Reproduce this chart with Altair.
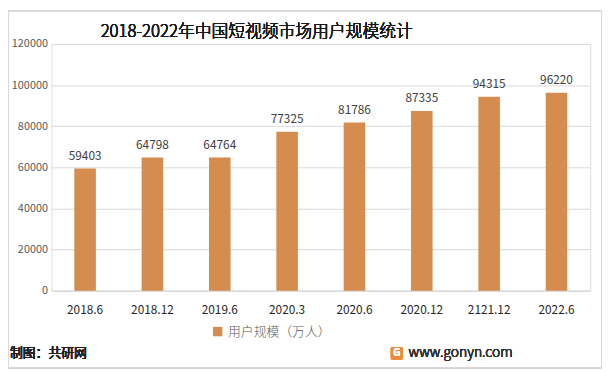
import altair as alt
import pandas as pd

periods = ["2018.6", "2018.12", "2019.6", "2020.3", "2020.6", "2020.12", "2121.12", "2022.6"]
users = [59403, 64798, 64764, 77325, 81786, 87335, 94315, 96220]
series_name = "用户规模（万人）"
title_text = "2018-2022年中国短视频市场用户规模统计"
y_ticks = [0, 20000, 40000, 60000, 80000, 100000, 120000]

df = pd.DataFrame({"period": periods, "users": users, "series": [series_name] * len(periods)})

FONT = "'Noto Sans CJK SC', 'Noto Sans', sans-serif"
BAR = "#D48C4F"

base = alt.Chart(df)

x = alt.X("period:N", sort=periods, title=None,
          scale=alt.Scale(paddingInner=0.68, paddingOuter=0.34),
          axis=alt.Axis(labelAngle=0, labelFontSize=12, labelColor="#262626", labelFont=FONT,
                        labelPadding=14, ticks=False, domain=True, domainColor="#d9d9d9"))
y = alt.Y("users:Q", title=None,
          scale=alt.Scale(domain=[0, 120000], nice=False),
          axis=alt.Axis(values=y_ticks, format="d", labelFontSize=11, labelColor="#595959",
                        labelFont=FONT, ticks=False, domain=False, gridColor="#d9d9d9",
                        labelPadding=4))

bars = base.mark_bar(color=BAR).encode(
    x=x, y=y,
    color=alt.Color("series:N", scale=alt.Scale(range=[BAR]),
                    legend=alt.Legend(title=None, orient="none", legendX=162, legendY=285,
                                      symbolType="square", symbolSize=90, labelFontSize=13,
                                      labelColor="#595959", labelFont=FONT, labelFontWeight=300)),
)

labels = base.mark_text(baseline="bottom", dy=-6, fontSize=12, color="#404040", font=FONT).encode(
    x=alt.X("period:N", sort=periods), y="users:Q", text="users:Q"
)

title = base.mark_text(fontSize=17, fontWeight=300, color="#1a1a1a", font=FONT,
                       baseline="middle").encode(
    x=alt.value(208), y=alt.value(-12), text=alt.value(title_text)
)

footer_left = base.mark_text(fontSize=13, fontWeight="normal", color="#222222", font=FONT,
                             align="left", baseline="middle").encode(
    x=alt.value(-42), y=alt.value(313), text=alt.value("制图：共研网")
)
footer_right = base.mark_text(fontSize=14, color="#333333", font=FONT, fontWeight=300,
                              align="left", baseline="middle").encode(
    x=alt.value(362), y=alt.value(313), text=alt.value("www.gonyn.com")
)
logo = base.mark_rect(color="#F08A3C", cornerRadius=2).encode(
    x=alt.value(344), x2=alt.value(356), y=alt.value(307), y2=alt.value(320)
)
logo_g = base.mark_text(fontSize=10, fontWeight="bold", color="white", font=FONT,
                        baseline="middle").encode(
    x=alt.value(350), y=alt.value(313.5), text=alt.value("G")
)
border = base.mark_rect(fill=None, stroke="#d9d9d9", strokeWidth=1).encode(
    x=alt.value(-43.5), x2=alt.value(557.5), y=alt.value(-33.5), y2=alt.value(328.5)
)

chart = alt.layer(border, bars, labels, title, footer_left, footer_right, logo, logo_g).properties(
    width=546, height=250,
    autosize=alt.AutoSizeParams(type="none"),
    padding={"left": 44, "top": 34, "right": 13, "bottom": 80},
).configure_view(stroke=None).configure(background="white")

chart.save("out.html", embed_options={"renderer": "svg", "actions": False})
